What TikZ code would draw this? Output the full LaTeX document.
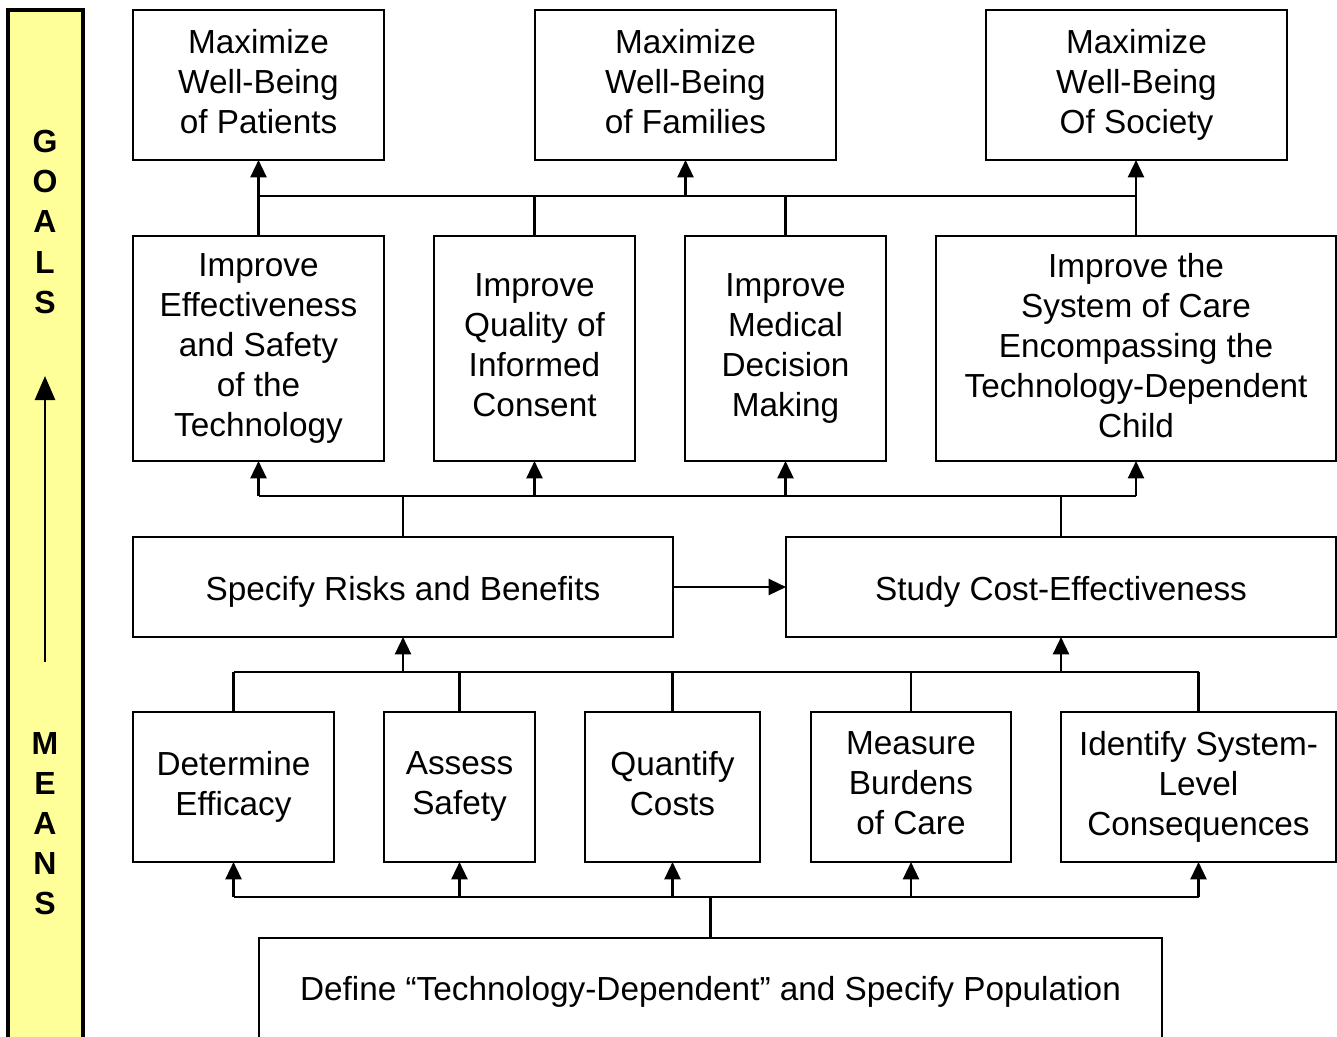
\documentclass[tikz,border=0pt]{standalone}
\usepackage{fontspec}
\setmainfont{Liberation Sans}
\usetikzlibrary{arrows.meta}
\definecolor{barfill}{HTML}{FFFF99}
\newcommand\bxstrut{\rule[-5.25pt]{0pt}{30pt}}
\tikzset{
  bx/.style={draw=black, line width=1.8pt, fill=white, inner sep=0pt, outer sep=0pt, align=center,
    font=\fontsize{25pt}{30pt}\selectfont, execute at begin node=\bxstrut, execute at end node=\bxstrut},
  conn/.style={line width=1.8pt, draw=black},
  arr/.style={conn, -{Triangle[width=12pt,length=13pt]}},
  letter/.style={inner sep=0pt, font=\fontsize{24pt}{28pt}\selectfont\bfseries},
}
\newcommand\bx[7][]{\node[bx, #1, minimum width={(#5-#3)*0.75pt}, minimum height={(#6-#4)*0.75pt}] (#2) at ({(#3+#5)/2},{(#4+#6)/2}) {#7};}
\begin{document}
\begin{tikzpicture}[x=0.75pt,y=-0.75pt]
\useasboundingbox (0,0) rectangle (1337,1036);
\clip (0,0) rectangle (1337,1036);
\fill[white] (0,0) rectangle (1337,1036);
% side bar
\node[draw=black, line width=2.4pt, fill=barfill, inner sep=0pt, outer sep=0pt, minimum width=75*0.75pt, minimum height=1040*0.75pt] (bar) at (45.5,530) {};
\foreach \l/\y [count=\i] in {G/141,O/181,A/221,L/262,S/302}{\node[letter] (g\i) at (45,\y) {\l};}
\foreach \l/\y [count=\i] in {M/743,E/783,A/823,N/863,S/903}{\node[letter] (m\i) at (45,\y) {\l};}
\coordinate (barlo) at (45,662);
\coordinate (barhi) at (45,376);
\draw[line width=2pt, -{Triangle[width=15pt,length=18pt]}] (barlo) -- (barhi);
% row 1
\bx{pat}{133}{10}{384}{160}{Maximize\\Well-Being\\of Patients}
\bx{fam}{535}{10}{836}{160}{Maximize\\Well-Being\\of Families}
\bx{soc}{986}{10}{1287}{160}{Maximize\\Well-Being\\Of Society}
% row 2
\bx{eff}{133}{236}{384}{461}{Improve\\Effectiveness\\and Safety\\of the\\Technology}
\bx{ic}{434}{236}{635}{461}{Improve\\Quality of\\Informed\\Consent}
\bx{md}{685}{236}{886}{461}{Improve\\Medical\\Decision\\Making}
\bx{sys}{936}{236}{1336}{461}{Improve the\\System of Care\\Encompassing the\\Technology-Dependent\\Child}
% row 3
\bx{spec}{133}{537}{673}{637}{Specify Risks and Benefits}
\bx{study}{786}{537}{1336}{637}{Study Cost-Effectiveness}
% row 4
\bx{de}{133}{712}{334}{862}{Determine\\Efficacy}
\bx{as}{384}{712}{535}{862}{Assess\\Safety}
\bx{qc}{585}{712}{760}{862}{Quantify\\Costs}
\bx{mb}{811}{712}{1011}{862}{Measure\\Burdens\\of Care}
\bx{id}{1061}{712}{1336}{862}{Identify System-\\Level\\Consequences}
% bottom (runs off the lower edge)
\bx[draw=none]{def}{259}{938}{1162}{1036}{Define “Technology-Dependent” and Specify Population}
\draw[conn] ([yshift=-12pt]def.south west) -- (def.north west) -- (def.north east) -- ([yshift=-12pt]def.south east);
% buses
\coordinate (b1) at (0,196);
\coordinate (b2) at (0,496);
\coordinate (b3) at (0,672);
\coordinate (b4) at (0,897);
% level 1
\draw[conn] (eff.north |- b1) -- (sys.north |- b1);
\draw[arr] (eff.north) -- (pat.south);
\draw[conn] (ic.north) -- (ic.north |- b1);
\draw[conn] (md.north) -- (md.north |- b1);
\draw[arr] (fam.south |- b1) -- (fam.south);
\draw[arr] (sys.north) -- (soc.south -| sys.north);
% level 2
\draw[conn] (eff.south |- b2) -- (sys.south |- b2);
\foreach \n in {eff,ic,md,sys}{\draw[arr] (\n.south |- b2) -- (\n.south);}
\draw[conn] (spec.north) -- (spec.north |- b2);
\draw[conn] (study.north) -- (study.north |- b2);
% level 3
\draw[arr] (spec.east) -- (study.west);
\draw[conn] (de.north |- b3) -- (id.north |- b3);
\draw[arr] (spec.south |- b3) -- (spec.south);
\draw[arr] (study.south |- b3) -- (study.south);
\foreach \n in {de,as,qc,mb,id}{\draw[conn] (\n.north) -- (\n.north |- b3);}
% level 4
\draw[conn] (de.south |- b4) -- (id.south |- b4);
\foreach \n in {de,as,qc,mb,id}{\draw[arr] (\n.south |- b4) -- (\n.south);}
\draw[conn] (def.north) -- (def.north |- b4);
\end{tikzpicture}
\end{document}
